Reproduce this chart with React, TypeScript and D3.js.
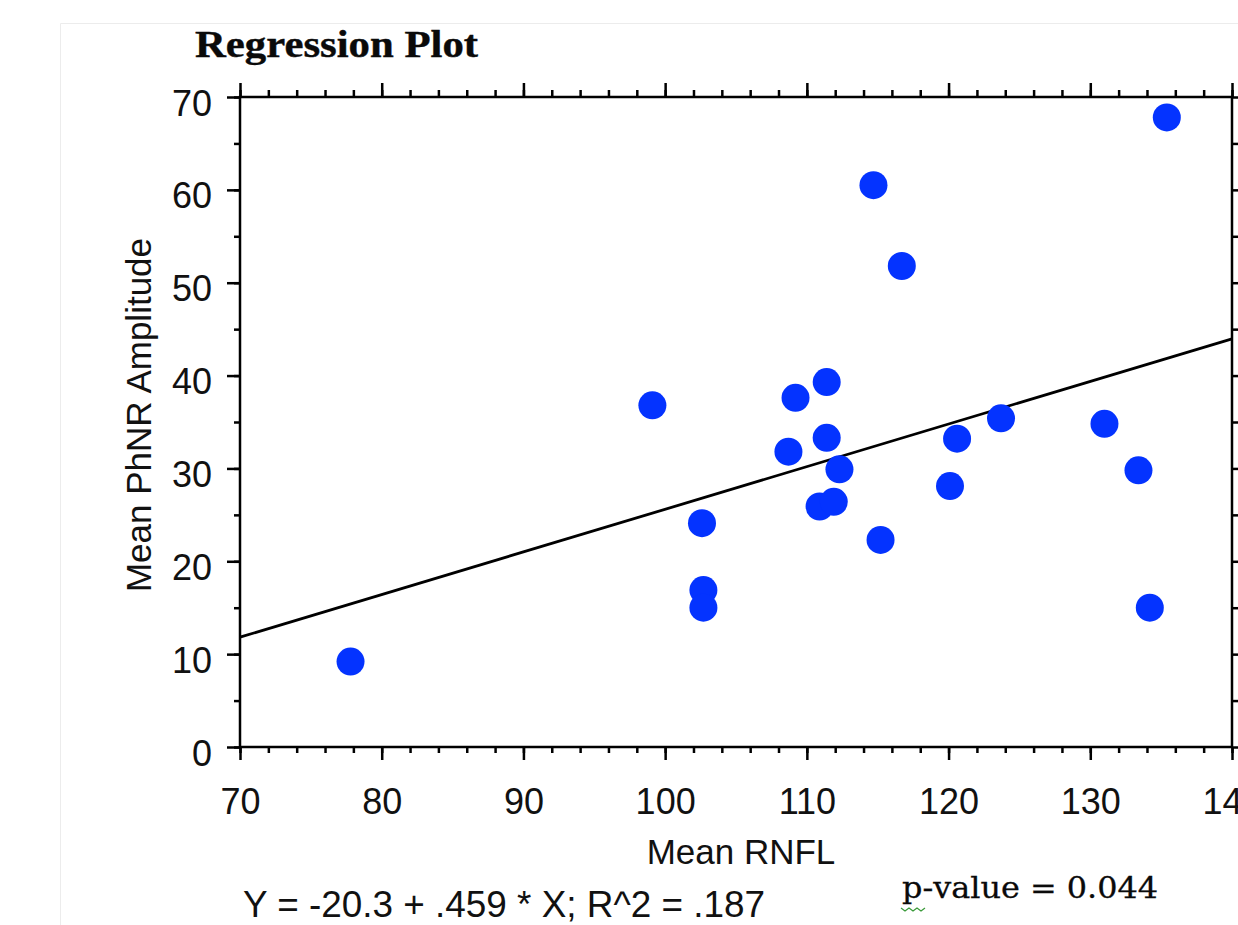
import React, { useEffect, useRef } from "react";
import * as d3 from "d3";

// Mean RNFL (x) and Mean PhNR Amplitude (y)
const rnfl = [
  77.8, 99.1, 102.6, 102.7, 102.7, 108.7, 109.2, 111.4, 111.4, 110.9, 111.9,
  112.3, 115.2, 114.7, 116.7, 120.1, 120.6, 123.7, 131.0, 133.4, 134.2, 135.4,
];
const phnr = [
  9.2, 36.8, 24.1, 16.9, 15.0, 31.8, 37.6, 39.3, 33.3, 25.9, 26.4, 29.9, 22.3,
  60.5, 51.8, 28.1, 33.2, 35.4, 34.8, 29.8, 15.0, 67.8,
];

const intercept = -20.3;
const slope = 0.459;

const xTicks = [70, 80, 90, 100, 110, 120, 130, 140];
const yTicks = [0, 10, 20, 30, 40, 50, 60, 70];

const title = "Regression Plot";
const xTitle = "Mean RNFL";
const yTitle = "Mean PhNR Amplitude";
const equation = "Y = -20.3 + .459 * X; R^2 = .187";
const pValue = "p-value = 0.044";

const W = 1238;
const H = 925;

export default function App() {
  const svgRef = useRef<SVGSVGElement | null>(null);

  useEffect(() => {
    const svg = d3.select(svgRef.current);
    svg.selectAll("*").remove();

    const left = 240,
      right = 1232,
      top = 97,
      bottom = 747;
    const sans = "'Liberation Sans', Arial, sans-serif";

    const x = d3.scaleLinear().domain([70, 140]).range([left, right]);
    const y = d3.scaleLinear().domain([0, 70]).range([bottom, top]);

    // page edge (light document border)
    svg
      .append("path")
      .attr("d", `M60.5,${H} V23.5 H${W}`)
      .attr("fill", "none")
      .attr("stroke", "#ececec")
      .attr("stroke-width", 1);

    // title
    svg
      .append("text")
      .attr("x", 195)
      .attr("y", 57)
      .attr("font-family", "'Liberation Serif', 'Times New Roman', serif")
      .attr("font-weight", "bold")
      .attr("font-size", 37)
      .attr("textLength", 283)
      .attr("lengthAdjust", "spacingAndGlyphs")
      .attr("fill", "#0a0a0a")
      .attr("stroke", "#0a0a0a")
      .attr("stroke-width", 0.4)
      .text(title);

    const styleAxis = (g: any) => {
      g.select(".domain").remove();
      g.selectAll("line").attr("stroke", "#000").attr("stroke-width", 2.5);
      g.selectAll("text")
        .attr("font-family", sans)
        .attr("font-size", 36)
        .attr("fill", "#111");
    };

    const minorX = d3.range(70, 141, 2);
    const minorY = d3.range(0, 71, 5);

    // bottom axis
    svg
      .append("g")
      .attr("transform", `translate(0,${bottom})`)
      .call(d3.axisBottom(x).tickValues(minorX).tickSize(6).tickFormat(() => ""))
      .call(styleAxis);
    svg
      .append("g")
      .attr("transform", `translate(0,${bottom})`)
      .call(d3.axisBottom(x).tickValues(xTicks).tickSize(13).tickPadding(28).tickFormat(d3.format("d")))
      .call(styleAxis);

    // top axis (no labels)
    svg
      .append("g")
      .attr("transform", `translate(0,${top})`)
      .call(d3.axisTop(x).tickValues(minorX).tickSize(7).tickFormat(() => ""))
      .call(styleAxis);
    svg
      .append("g")
      .attr("transform", `translate(0,${top})`)
      .call(d3.axisTop(x).tickValues(xTicks).tickSize(14).tickFormat(() => ""))
      .call(styleAxis);

    // left axis
    svg
      .append("g")
      .attr("transform", `translate(${left},0)`)
      .call(d3.axisLeft(y).tickValues(minorY).tickSize(6).tickFormat(() => ""))
      .call(styleAxis);
    const yAx = svg
      .append("g")
      .attr("transform", `translate(${left},0)`)
      .call(d3.axisLeft(y).tickValues(yTicks).tickSize(13).tickPadding(15).tickFormat(d3.format("d")))
      .call(styleAxis);
    yAx.selectAll("text").attr("dy", "0.5em");

    // right axis (no labels)
    svg
      .append("g")
      .attr("transform", `translate(${right},0)`)
      .call(d3.axisRight(y).tickValues(minorY).tickSize(12).tickFormat(() => ""))
      .call(styleAxis);

    // frame
    svg
      .append("rect")
      .attr("x", left)
      .attr("y", top)
      .attr("width", right - left)
      .attr("height", bottom - top)
      .attr("fill", "none")
      .attr("stroke", "#000")
      .attr("stroke-width", 2.5);

    // axis titles
    svg
      .append("text")
      .attr("x", 741)
      .attr("y", 864)
      .attr("text-anchor", "middle")
      .attr("font-family", sans)
      .attr("font-size", 35)
      .attr("fill", "#111")
      .text(xTitle);

    svg
      .append("text")
      .attr("transform", "translate(151,415) rotate(-90)")
      .attr("text-anchor", "middle")
      .attr("font-family", sans)
      .attr("font-size", 35)
      .attr("fill", "#111")
      .text(yTitle);

    // regression line
    const fit = [70, 140].map((v) => [v, intercept + slope * v] as [number, number]);
    svg
      .append("path")
      .datum(fit)
      .attr(
        "d",
        d3
          .line<[number, number]>()
          .x((d) => x(d[0]))
          .y((d) => y(d[1]))
      )
      .attr("fill", "none")
      .attr("stroke", "#000")
      .attr("stroke-width", 2.8);

    // points
    svg
      .append("g")
      .selectAll("circle")
      .data(rnfl.map((v, i) => [v, phnr[i]]))
      .join("circle")
      .attr("cx", (d) => x(d[0]))
      .attr("cy", (d) => y(d[1]))
      .attr("r", 14)
      .attr("fill", "#0433ff");

    // footer texts
    svg
      .append("text")
      .attr("x", 243)
      .attr("y", 917)
      .attr("font-family", sans)
      .attr("font-size", 37)
      .attr("textLength", 522)
      .attr("lengthAdjust", "spacingAndGlyphs")
      .attr("fill", "#111")
      .text(equation);

    // little spell-check squiggle under the "p"
    const sq = d3.range(0, 7).map((i) => [901 + i * 4, 909 + (i % 2 ? 2 : -1)] as [number, number]);
    svg
      .append("path")
      .datum(sq)
      .attr("d", d3.line())
      .attr("fill", "none")
      .attr("stroke", "#3a9a3a")
      .attr("stroke-width", 1.2);

    svg
      .append("text")
      .attr("x", 902)
      .attr("y", 898)
      .attr("font-family", "'DejaVu Serif', serif")
      .attr("font-size", 29)
      .attr("textLength", 256)
      .attr("lengthAdjust", "spacingAndGlyphs")
      .attr("fill", "#0a0a0a")
      .attr("stroke", "#0a0a0a")
      .attr("stroke-width", 0.3)
      .text(pValue);
  }, []);

  return (
    <svg
      ref={svgRef}
      width={W}
      height={H}
      style={{ position: "absolute", left: 0, top: 0, background: "#fff" }}
    />
  );
}
